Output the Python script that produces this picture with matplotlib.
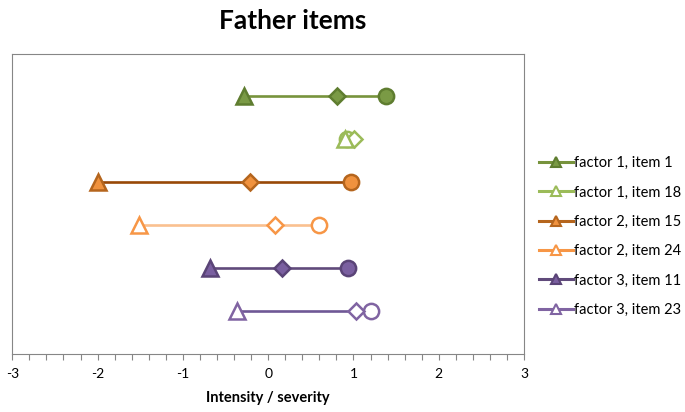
import matplotlib
matplotlib.use('Agg')
import matplotlib.pyplot as plt
from matplotlib.lines import Line2D

plt.rcParams['font.family'] = ['Lato', 'DejaVu Sans']
plt.rcParams['axes.unicode_minus'] = False

labels = ['factor 1, item 1', 'factor 1, item 18', 'factor 2, item 15',
          'factor 2, item 24', 'factor 3, item 11', 'factor 3, item 23']
# each item: triangle point, diamond point, circle point
tri_x = [-0.28, 0.90, -2.00, -1.52, -0.68, -0.36]
dia_x = [0.81, 1.01, -0.21, 0.08, 0.16, 1.03]
circ_x = [1.38, 0.92, 0.97, 0.60, 0.94, 1.21]

line_col = ['#77933c', '#9bbb59', '#984807', '#fac090', '#604a7b', '#6f5896']
edge_col = ['#5f7d30', '#9bbb59', '#b5651d', '#f79646', '#5a4477', '#8064a2']
fill_col = ['#7a9a45', 'white', '#f0923e', 'white', '#7a5fa0', 'white']
leg_line = ['#77933c', '#9bbb59', '#b5651d', '#f79646', '#604a7b', '#8064a2']

fig = plt.figure(figsize=(6.85, 4.12), dpi=100)
ax = fig.add_axes([0.018, 0.141, 0.747, 0.729])

handles = []
for i, name in enumerate(labels):
    y = i + 1
    ax.plot([tri_x[i], dia_x[i], circ_x[i]], [y, y, y], color=line_col[i], lw=1.9, zorder=2)
    ax.plot(circ_x[i], y, marker='o', ms=11, mfc=fill_col[i], mec=edge_col[i], mew=1.8, zorder=3)
    ax.plot(dia_x[i], y, marker='D', ms=8, mfc=fill_col[i], mec=edge_col[i], mew=1.8, zorder=4)
    ax.plot(tri_x[i], y, marker='^', ms=12, mfc=fill_col[i], mec=edge_col[i], mew=1.8, zorder=5)
    handles.append(Line2D([], [], color=leg_line[i], lw=2.2, marker='^', ms=7.5,
                          mfc=fill_col[i], mec=edge_col[i], mew=1.5))

ax.set_xlim(-3, 3)
ax.set_ylim(7, 0)
ax.set_yticks([])
ax.set_xticks([-3, -2, -1, 0, 1, 2, 3])
ax.set_xticks([-3 + 0.2 * k for k in range(31)], minor=True)
ax.tick_params(axis='x', which='both', direction='out', length=4, width=0.8,
               color='#868686', labelsize=10, pad=6)
for s in ax.spines.values():
    s.set_color('#868686')
    s.set_linewidth(0.8)

ax.set_xlabel('Intensity / severity', fontsize=10.5, fontweight='bold', labelpad=8)
fig.text(0.428, 0.948, 'Father items', fontsize=19, fontweight='bold', ha='center', va='center')

fig.legend(handles=handles, labels=labels, loc='center left', bbox_to_anchor=(0.768, 0.426),
           frameon=False, fontsize=10.5, handlelength=2.3, labelspacing=1.05, handletextpad=0.1)

fig.savefig('out.png', dpi=100)
